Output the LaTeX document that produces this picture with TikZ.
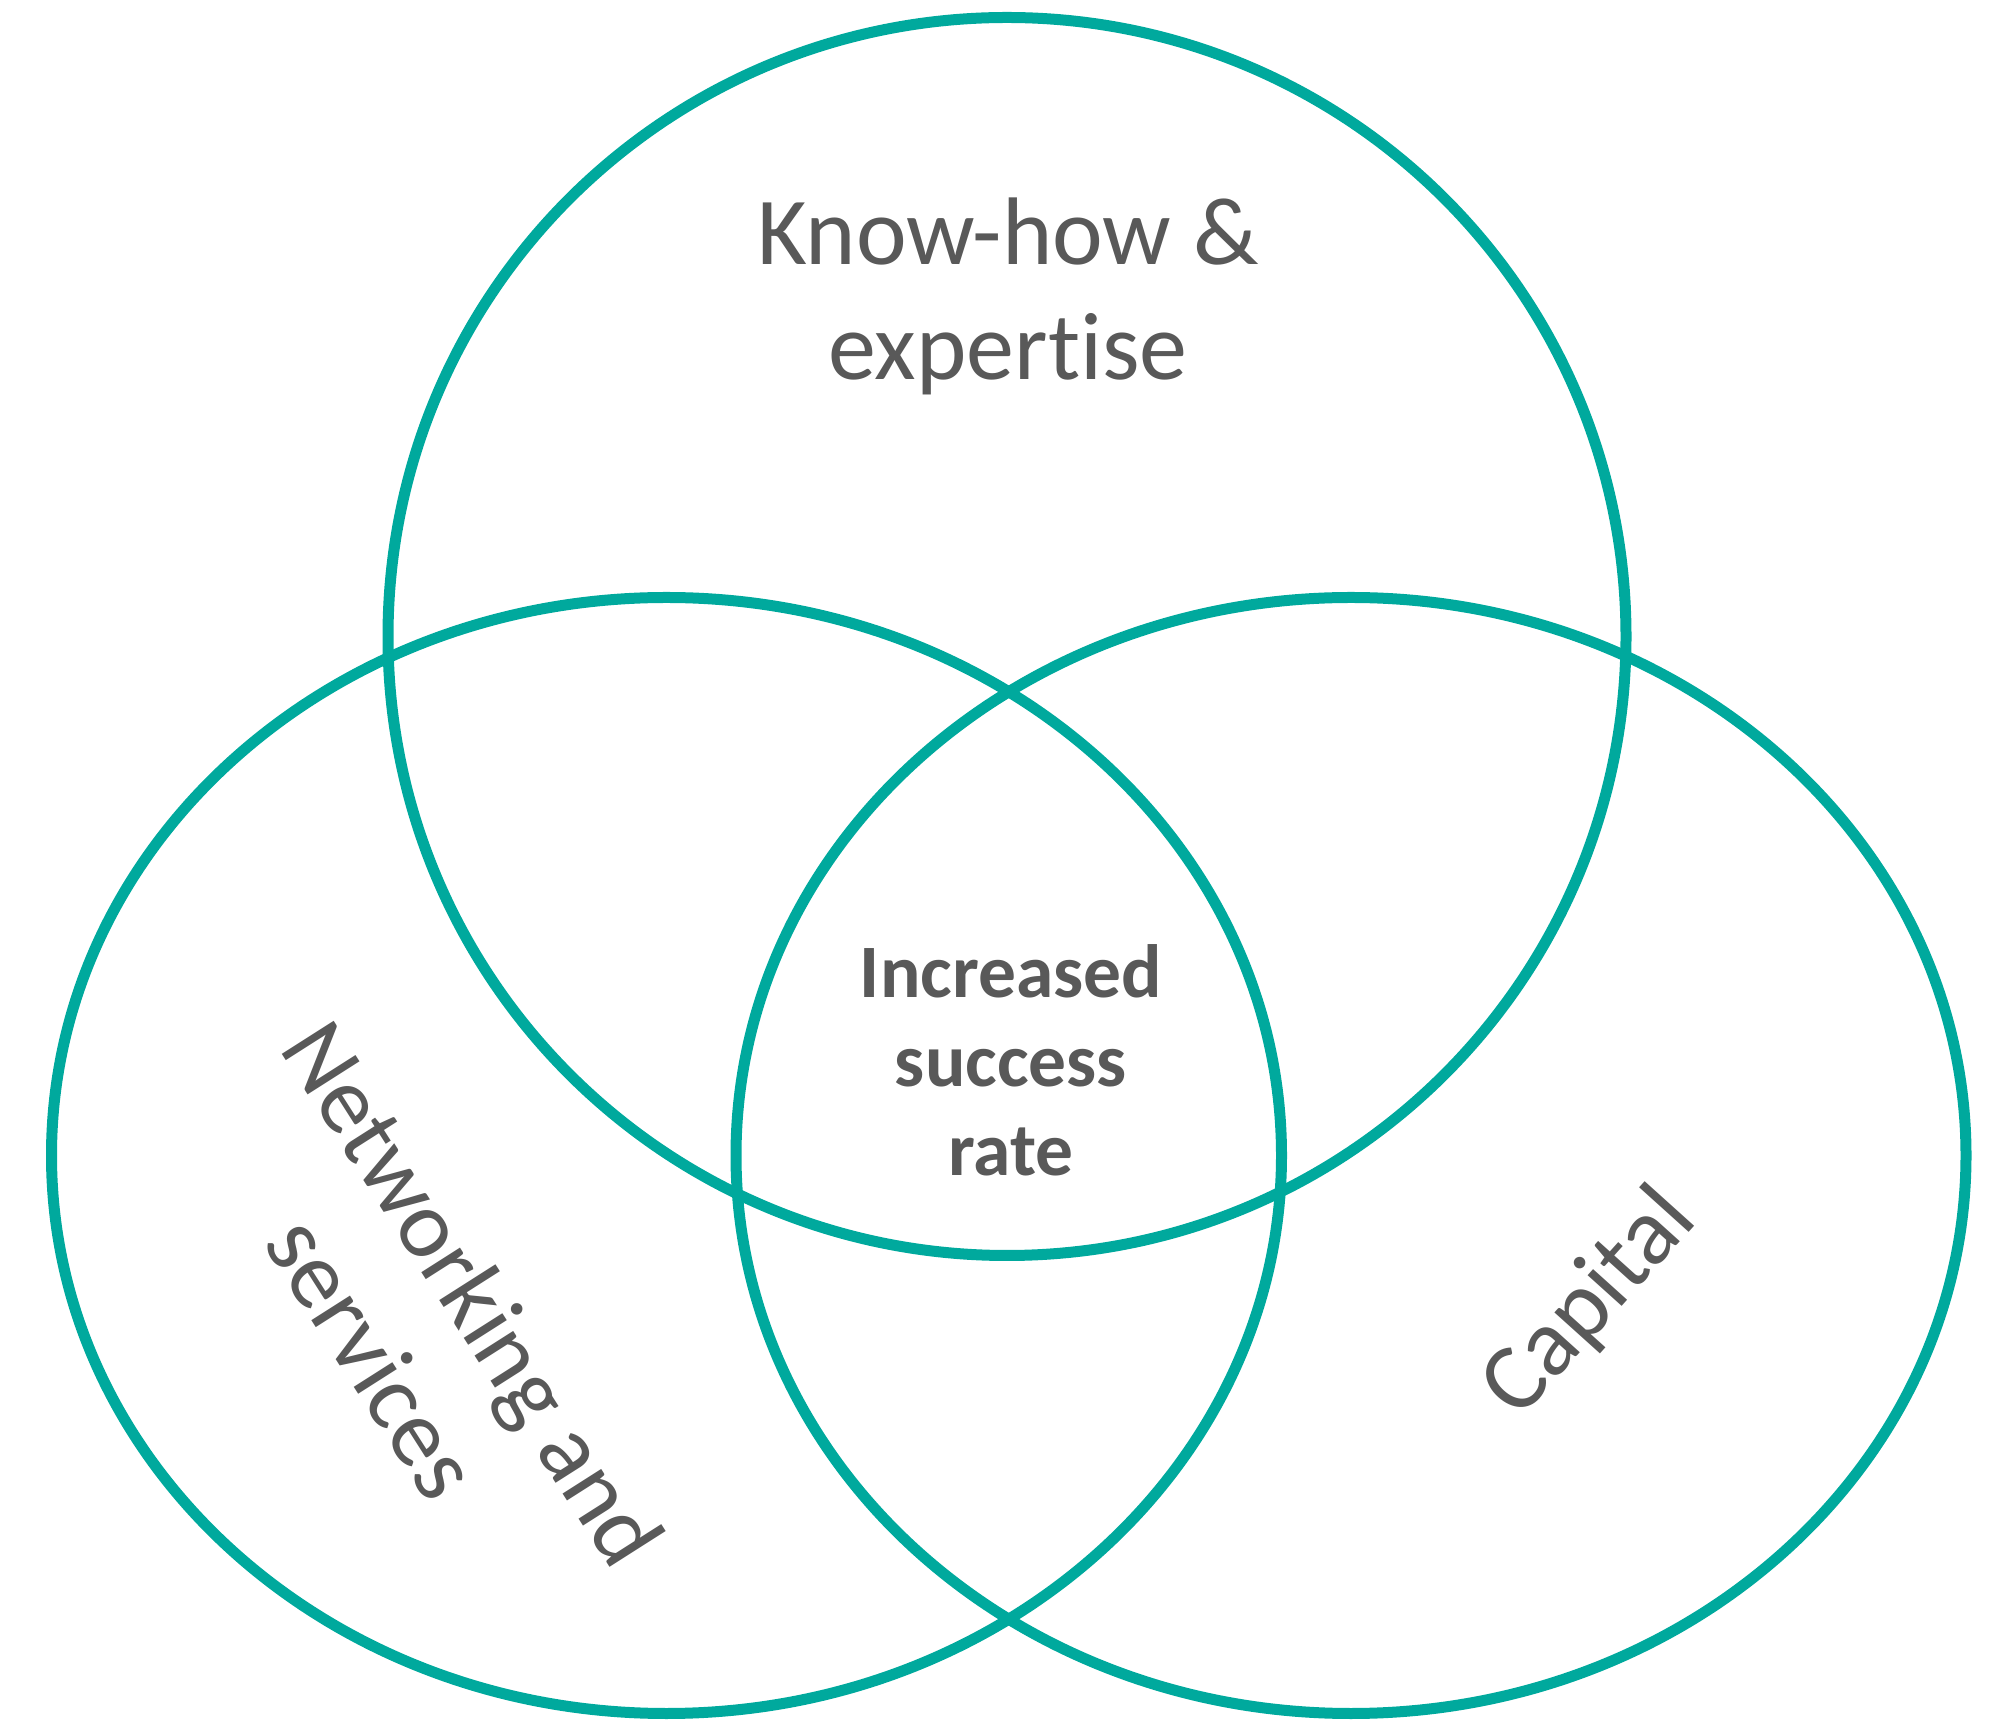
\documentclass[tikz,border=0pt]{standalone}
\usepackage{fontspec}
\setmainfont{Carlito}[Ligatures=NoCommon,RawFeature={-liga}]
\definecolor{teal}{HTML}{00A99D}
\definecolor{txt}{HTML}{595959}
\begin{document}
\begin{tikzpicture}[x=1pt,y=1pt,
  ring/.style={draw=teal,line width=11pt},
  lbl/.style={text=txt,font=\fontsize{96}{119}\selectfont,inner sep=0pt,align=center},
  blbl/.style={text=txt,font=\fontsize{75.5}{89.6}\selectfont\bfseries,inner sep=0pt,anchor=base}]
\useasboundingbox (0,0) rectangle (1997,1725);
\draw[ring] (1007,1088.5) circle [radius=619];
\draw[ring] (666.5,569.5) ellipse [x radius=615,y radius=558];
\draw[ring] (1351,569.5) ellipse [x radius=615,y radius=558];
\node[lbl,anchor=base] (k1) at (1008,1460) {Know-how \&};
\node[lbl,anchor=base] (k2) at (1008,1345) {expertise};
\node[blbl] (c1) at (1011,727) {Increased};
\node[blbl] (c2) at (1011,638) {success};
\node[blbl] (c3) at (1011,549) {rate};
\node[lbl,rotate=-57.5] (net) at (424,400) {Networking and\\services};
\node[lbl,rotate=48] (cap) at (1590,421) {Capital};
\end{tikzpicture}
\end{document}
